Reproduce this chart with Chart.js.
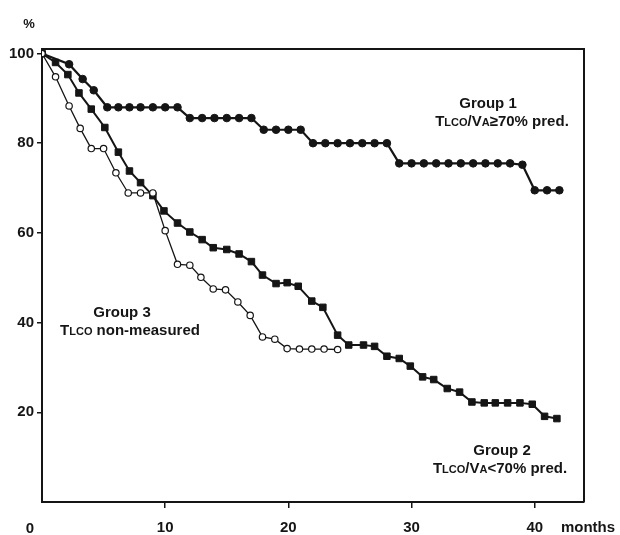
<!DOCTYPE html>
<html><head><meta charset="utf-8">
<script src="https://cdn.jsdelivr.net/npm/chart.js@4/dist/chart.umd.min.js"></script>
<style>html,body{margin:0;padding:0;background:#fff}</style>
</head><body>
<canvas id="c" width="620" height="535" style="display:block"></canvas>
<script>
const g1Months=[0,2.2,3.3,4.2,5.3,6.2,7.1,8,9,10,11,12,13,14,15,16,17,18,19,20,21,22,23,24,25,26,27,28,29,30,31,32,33,34,35,36,37,38,39,40,41,42];
const g1Values=[100,97.6,94.3,91.8,88,88,88,88,88,88,88,85.6,85.6,85.6,85.6,85.6,85.6,83,83,83,83,80,80,80,80,80,80,80,75.5,75.5,75.5,75.5,75.5,75.5,75.5,75.5,75.5,75.5,75.2,69.5,69.5,69.5];
const g2Months=[0,1.1,2.1,3.0,4.0,5.1,6.2,7.1,8.0,9.0,9.9,11.0,12.0,13.0,13.9,15.0,16.0,17.0,17.9,19.0,19.9,20.8,21.9,22.8,24.0,24.9,26.1,27.0,28.0,29.0,29.9,30.9,31.8,32.9,33.9,34.9,35.9,36.8,37.8,38.8,39.8,40.8,41.8];
const g2Values=[100,98,95.3,91.2,87.6,83.5,78,73.8,71.2,68.3,64.9,62.2,60.2,58.5,56.7,56.3,55.3,53.6,50.6,48.7,48.9,48.1,44.8,43.4,37.2,35,35,34.7,32.5,32,30.3,27.9,27.3,25.3,24.5,22.3,22.1,22.1,22.1,22.1,21.8,19.1,18.6];
const g3Months=[0,1.1,2.2,3.1,4.0,5.0,6.0,7.0,8.0,9.0,10.0,11.0,12.0,12.9,13.9,14.9,15.9,16.9,17.9,18.9,19.9,20.9,21.9,22.9,24.0];
const g3Values=[100,94.8,88.3,83.3,78.8,78.8,73.4,68.9,68.9,68.9,60.5,53,52.8,50.1,47.5,47.3,44.6,41.6,36.8,36.3,34.2,34.1,34.1,34.1,34];
const xTickValues=[10,20,30,40];
const yTickValues=[20,40,60,80,100];

const FONT='"Liberation Sans", Arial, sans-serif';
const INK='#151515';
function pts(m,v){return m.map((x,i)=>({x:x,y:v[i]}));}

function rich(ctx,parts,cx,base){
  let w=0;
  parts.forEach(p=>{ctx.font='bold '+p[1]+'px '+FONT;w+=ctx.measureText(p[0]).width;});
  let x=cx-w/2;
  ctx.textAlign='left';ctx.textBaseline='alphabetic';ctx.fillStyle=INK;
  parts.forEach(p=>{ctx.font='bold '+p[1]+'px '+FONT;ctx.fillText(p[0],x,base);x+=ctx.measureText(p[0]).width;});
}

const annot={
  id:'annot',
  beforeDatasetsDraw(chart){
    const {ctx,chartArea:a}=chart;
    ctx.save();
    ctx.strokeStyle=INK;ctx.lineWidth=2;
    ctx.beginPath();
    ctx.moveTo(a.left,a.top);ctx.lineTo(a.right,a.top);ctx.lineTo(a.right,a.bottom);
    ctx.stroke();
    ctx.restore();
  },
  afterDraw(chart){
    const ctx=chart.ctx;
    ctx.save();
    rich(ctx,[['Group 1',15]],488,108);
    rich(ctx,[['T',15],['LCO',11],['/V',15],['A',11],['\u226570% pred.',15]],502,126);
    rich(ctx,[['Group 2',15]],502,455);
    rich(ctx,[['T',15],['LCO',11],['/V',15],['A',11],['<70% pred.',15]],500,473);
    rich(ctx,[['Group 3',15]],122,317);
    rich(ctx,[['T',15],['LCO',11],[' non-measured',15]],130,335);
    rich(ctx,[['0',15]],30,533);
    rich(ctx,[['months',15]],588,532);
    rich(ctx,[['%',13]],29,28);
    ctx.restore();
  }
};

new Chart(document.getElementById('c'),{
  type:'line',
  data:{datasets:[
    {label:'Group 3',data:pts(g3Months,g3Values),order:0,borderColor:INK,borderWidth:1.3,
     pointStyle:'circle',pointRadius:3.2,pointBackgroundColor:'#fff',pointBorderColor:INK,pointBorderWidth:1.2,tension:0},
    {label:'Group 2',data:pts(g2Months,g2Values),order:1,borderColor:INK,borderWidth:2,
     pointStyle:'rect',pointRadius:4.6,pointBackgroundColor:INK,pointBorderColor:INK,pointBorderWidth:1,tension:0},
    {label:'Group 1',data:pts(g1Months,g1Values),order:2,borderColor:INK,borderWidth:2.2,
     pointStyle:'circle',pointRadius:3.8,pointBackgroundColor:INK,pointBorderColor:INK,pointBorderWidth:1,tension:0}
  ]},
  options:{
    responsive:false,animation:false,
    layout:{padding:{top:49,right:36,left:0,bottom:0}},
    plugins:{legend:{display:false},tooltip:{enabled:false}},
    scales:{
      x:{type:'linear',min:0,max:44,
        afterBuildTicks(s){s.ticks=xTickValues.map(v=>({value:v}));},
        afterFit(s){s.height=33;},
        border:{display:true,color:INK,width:2},
        grid:{drawOnChartArea:false,drawTicks:true,tickLength:6,color:INK,lineWidth:1.5},
        ticks:{color:INK,font:{family:FONT,size:15,weight:'bold'},padding:11,maxRotation:0}
      },
      y:{type:'linear',min:0,max:101,
        afterBuildTicks(s){s.ticks=yTickValues.map(v=>({value:v}));},
        afterFit(s){s.width=42;},
        border:{display:true,color:INK,width:2},
        grid:{drawOnChartArea:false,drawTicks:true,tickLength:5,color:INK,lineWidth:1.5},
        ticks:{color:INK,font:{family:FONT,size:15,weight:'bold'},padding:3}
      }
    }
  },
  plugins:[annot]
});
</script>
</body></html>
